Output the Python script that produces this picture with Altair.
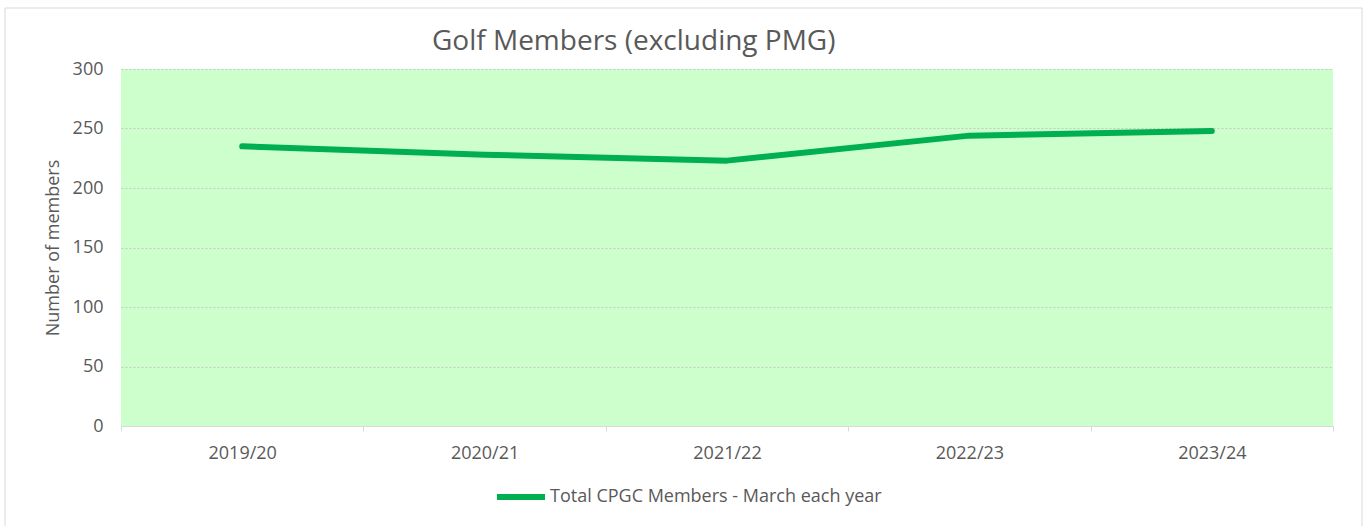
import altair as alt
import pandas as pd

# Season labels and March membership counts
seasons = ["2019/20", "2020/21", "2021/22", "2022/23", "2023/24"]
members = [235, 228, 223, 244, 248]
series_name = "Total CPGC Members - March each year"

df = pd.DataFrame({"season": seasons, "members": members, "series": series_name})

FONT = "Open Sans"
TEXT = "#595959"
GRID = "#d9d9d9"

# Thin grey frame around the whole chart area
frame = alt.Chart(alt.Data(values=[{}])).mark_rect(
    fillOpacity=0, stroke=GRID, strokeWidth=1
).encode(
    x=alt.value(-116), x2=alt.value(1241),
    y=alt.value(-61), y2=alt.value(461),
)

line = alt.Chart(df).mark_line(strokeWidth=6, strokeCap="round", strokeJoin="round").encode(
    x=alt.X(
        "season:N",
        sort=seasons,
        scale=alt.Scale(type="band", paddingInner=0, paddingOuter=0),
        axis=alt.Axis(
            title=None, labelAngle=0, tickBand="extent", grid=False,
            domainColor=GRID, tickColor=GRID, tickSize=5,
            labelFont=FONT, labelFontSize=18, labelColor=TEXT, labelPadding=13,
        ),
    ),
    y=alt.Y(
        "members:Q",
        scale=alt.Scale(domain=[0, 300], nice=False),
        axis=alt.Axis(
            title="Number  of members", values=[0, 50, 100, 150, 200, 250, 300],
            domain=False, ticks=False, grid=True, gridColor="#c8c8c8", gridDash=[2, 2],
            labelFont=FONT, labelFontSize=18, labelColor=TEXT, labelPadding=18,
            titleFont=FONT, titleFontSize=18, titleColor=TEXT, titleFontWeight="normal",
            titlePadding=10,
        ),
    ),
    color=alt.Color(
        "series:N",
        scale=alt.Scale(range=["#00b050"]),
        legend=alt.Legend(
            title=None, orient="none", legendX=373, legendY=401,
            symbolType="stroke", symbolSize=2304, symbolStrokeWidth=6,
            labelFont=FONT, labelFontSize=18, labelColor=TEXT, labelOffset=2,
            labelLimit=600,
        ),
    ),
)

chart = alt.layer(frame, line).properties(
    width=1212,
    height=357,
    title=alt.TitleParams(
        "Golf Members (excluding PMG)", anchor="start", frame="group", dx=311,
        font=FONT, fontSize=28, fontWeight="normal", color=TEXT,
        baseline="alphabetic", offset=0, dy=70,
    ),
    padding={"left": 121, "top": 69, "right": 32, "bottom": 100},
    autosize=alt.AutoSizeParams(type="none"),
).configure(
    background="white"
).configure_view(
    fill="#ccffcc", stroke=None
)

chart.save("out.html", embed_options={"renderer": "svg", "actions": False})
